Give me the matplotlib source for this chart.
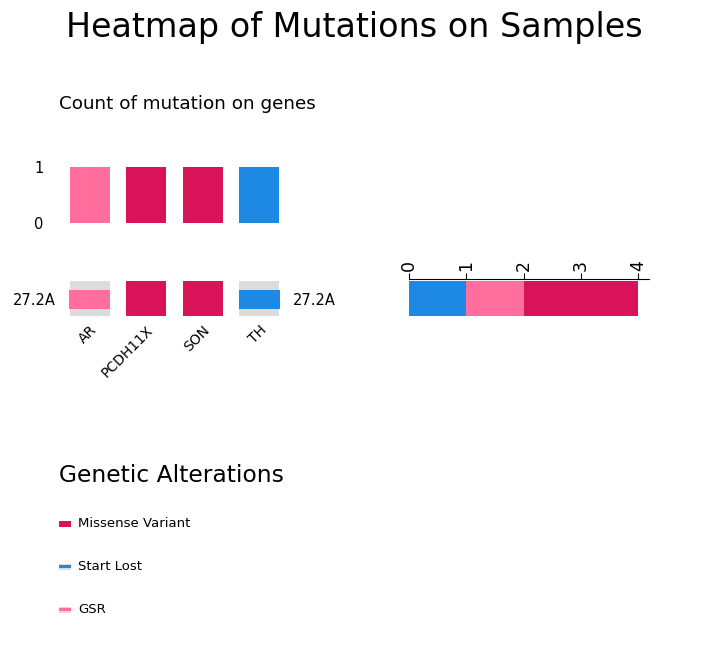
import matplotlib
matplotlib.use("Agg")
import matplotlib.pyplot as plt
from matplotlib.patches import Rectangle

# ---- data ----
genes = ["AR", "PCDH11X", "SON", "TH"]
gene_mutation = ["GSR", "Missense Variant", "Missense Variant", "Start Lost"]
gene_counts = [1, 1, 1, 1]
sample_label = "27.2A"
sample_types = ["Start Lost", "GSR", "Missense Variant"]
sample_counts = [1, 1, 2]
legend_types = ["Missense Variant", "Start Lost", "GSR"]

colors = {"Missense Variant": "#D81359", "Start Lost": "#1E88E5", "GSR": "#FF6E9C"}
full_types = {"Missense Variant"}
GRAY = "#DCDCDC"

W, H = 701, 668
fig = plt.figure(figsize=(W / 100, H / 100), dpi=100)


def px_axes(x0, y0, x1, y1):
    return fig.add_axes([x0 / W, 1 - y1 / H, (x1 - x0) / W, (y1 - y0) / H])


fig.text(354 / W, 1 - 28 / H, "Heatmap of Mutations on Samples", fontsize=24,
         ha="center", va="center")
fig.text(59 / W, 1 - 104 / H, "Count of mutation on genes", fontsize=13.25,
         ha="left", va="center")
fig.text(59 / W, 1 - 475 / H, "Genetic Alterations", fontsize=16.8,
         ha="left", va="center")

# ---- top bar: counts per gene ----
axt = px_axes(61.5, 167, 287.5, 223)
xs = [i + 0.5 for i in range(len(genes))]
axt.bar(xs, gene_counts, width=0.7, color=[colors[m] for m in gene_mutation])
axt.set_xlim(0, len(genes))
axt.set_ylim(0, 1)
axt.set_yticks([0, 1])
axt.set_yticklabels(["0", "1"], fontsize=10.5)
for lab in axt.get_yticklabels():
    if lab.get_text() == "0":
        lab.set_va("top")
        lab.set_va("center_baseline")
axt.tick_params(axis="y", length=0, pad=13)
axt.set_xticks([])
for s in axt.spines.values():
    s.set_visible(False)

# ---- heatmap row ----
axh = px_axes(61.5, 281, 287.5, 316)
for i, m in enumerate(gene_mutation):
    if m in full_types:
        axh.bar(xs[i], 1, width=0.7, bottom=0, color=colors[m])
    else:
        axh.bar(xs[i], 1, width=0.7, bottom=0, color=GRAY)
        axh.bar(xs[i], 0.54, width=0.72, bottom=0.2, color=colors[m])
axh.set_xlim(0, len(genes))
axh.set_ylim(0, 1)
axh.set_yticks([0.5])
axh.set_yticklabels([sample_label], fontsize=10.5)
axh.tick_params(axis="y", length=0, pad=4, labelleft=True, labelright=True)
axh.set_xticks(xs)
axh.set_xticklabels(genes, fontsize=10, rotation=45, ha="right", va="top",
                    rotation_mode="anchor")
axh.tick_params(axis="x", length=0, pad=5)
for s in axh.spines.values():
    s.set_visible(False)

# ---- right stacked bar ----
axr = px_axes(409, 279, 649, 316)
left = 0
for t, c in zip(sample_types, sample_counts):
    axr.barh(0, c, left=left, height=1, color=colors[t], align="edge")
    left += c
axr.set_xlim(0, 4.19)
axr.set_ylim(0, 37 / 35)
axr.set_yticks([])
axr.xaxis.tick_top()
axr.set_xticks([0, 1, 2, 3, 4])
axr.set_xticklabels(["0", "1", "2", "3", "4"], fontsize=12.5, rotation=90)
axr.tick_params(axis="x", length=4, pad=2)
for k in ["left", "right", "bottom"]:
    axr.spines[k].set_visible(False)

# ---- legend ----
axl = px_axes(59, 500, 300, 630)
axl.set_xlim(0, 241)
axl.set_ylim(130, 0)
axl.axis("off")
for i, t in enumerate(legend_types):
    yc = 23.5 + 43 * i
    if t in full_types:
        axl.add_patch(Rectangle((0, yc - 3), 12, 6, color=colors[t], lw=0))
    else:
        axl.add_patch(Rectangle((0, yc - 3), 12, 6, color=GRAY, lw=0))
        axl.add_patch(Rectangle((0, yc - 1.2), 12, 3, color=colors[t], lw=0))
    axl.text(19, yc, t, fontsize=9.5, va="center", ha="left")

fig.savefig("out.png", dpi=100)
